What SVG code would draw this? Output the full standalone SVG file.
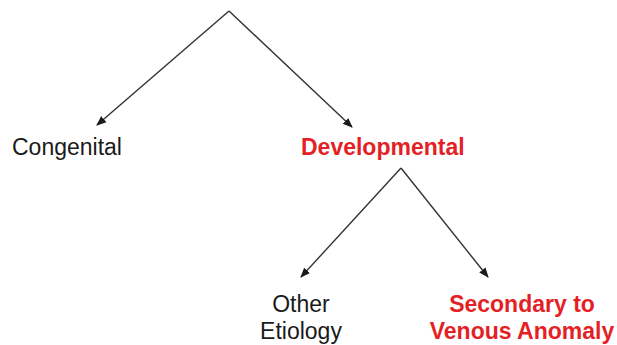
<svg xmlns="http://www.w3.org/2000/svg" width="617" height="345" viewBox="0 0 617 345">
<defs>
<marker id="ah" viewBox="0 0 10 10" refX="9" refY="5" markerWidth="10" markerHeight="10" markerUnits="userSpaceOnUse" orient="auto">
<path d="M0,1 L10,5 L0,9 Z" fill="#1a1a1a"/>
</marker>
</defs>
<style>
.t{font-family:"Liberation Sans",Arial,sans-serif;font-size:23px;fill:#1a1a1a}
.r{font-family:"Liberation Sans",Arial,sans-serif;font-size:23px;font-weight:bold;fill:#e41f25}
.c{stroke:#333;stroke-width:1.4;fill:none;marker-end:url(#ah)}
</style>
<rect width="617" height="345" fill="#fff"/>
<g id="connectors">
<path class="c" d="M229,11 L97,125"/>
<path class="c" d="M229,11 L352,127"/>
<path class="c" d="M401,168 L301,277"/>
<path class="c" d="M401,168 L488,277"/>
</g>
<g id="congenital"><text class="t" x="12" y="155">Congenital</text></g>
<g id="developmental"><text class="r" x="301" y="155">Developmental</text></g>
<g id="other-etiology"><text class="t" text-anchor="middle" x="301" y="312">Other</text><text class="t" text-anchor="middle" x="301" y="339">Etiology</text></g>
<g id="secondary"><text class="r" text-anchor="middle" x="522" y="312">Secondary to</text><text class="r" text-anchor="middle" x="522" y="339">Venous Anomaly</text></g>
</svg>
